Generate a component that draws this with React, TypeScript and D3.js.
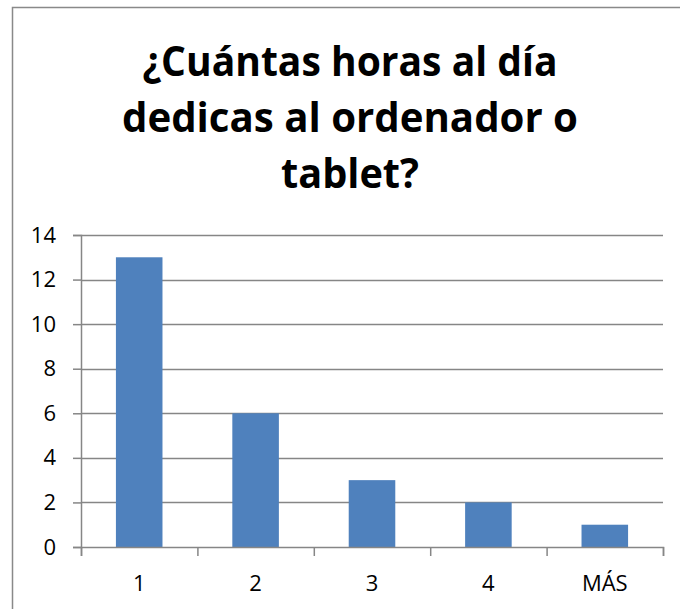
import React, { useEffect, useRef } from 'react';
import * as d3 from 'd3';

const categories = ['1', '2', '3', '4', 'MÁS'];
const values = [13, 6, 3, 2, 1];
const yTicks = [0, 2, 4, 6, 8, 10, 12, 14];
const titleLines = ['¿Cuántas horas al día', 'dedicas al ordenador o', 'tablet?'];

const App: React.FC = () => {
  const svgRef = useRef<SVGSVGElement | null>(null);

  useEffect(() => {
    if (!svgRef.current) return;

    const W = 680;
    const H = 609;
    const plot = { left: 81, right: 663, top: 235, bottom: 547 };
    const font = "'Open Sans', 'Noto Sans', sans-serif";

    const root = d3.select(svgRef.current);
    root.selectAll('*').remove();
    root.attr('width', W).attr('height', H);

    root.append('rect')
      .attr('width', W)
      .attr('height', H)
      .attr('fill', '#ffffff');

    // outer chart frame
    root.append('rect')
      .attr('x', 12.5)
      .attr('y', 7.5)
      .attr('width', 720)
      .attr('height', 640)
      .attr('fill', 'none')
      .attr('stroke', '#898989')
      .attr('stroke-width', 1.5);

    // title
    const title = root.append('text')
      .attr('text-anchor', 'middle')
      .attr('font-family', font)
      .attr('font-weight', 'bold')
      .attr('font-size', 41)
      .attr('fill', '#000');
    const titleWidths = [415, 456, 138];
    titleLines.forEach((line, i) => {
      title.append('tspan')
        .attr('x', 350)
        .attr('y', 76 + i * 56)
        .attr('textLength', titleWidths[i])
        .attr('lengthAdjust', 'spacingAndGlyphs')
        .text(line);
    });

    const x = d3.scaleBand<string>()
      .domain(categories)
      .range([plot.left, plot.right])
      .paddingInner(0.6)
      .paddingOuter(0.3);

    const xEdge = d3.scalePoint<number>()
      .domain(d3.range(categories.length + 1))
      .range([plot.left, plot.right]);

    const y = d3.scaleLinear()
      .domain([0, 14])
      .range([plot.bottom, plot.top]);

    const g = root.append('g');

    // gridlines
    g.append('g')
      .selectAll('line')
      .data(yTicks.filter(t => t > 0))
      .enter()
      .append('line')
      .attr('x1', plot.left)
      .attr('x2', plot.right)
      .attr('y1', d => Math.round(y(d)) + 0.5)
      .attr('y2', d => Math.round(y(d)) + 0.5)
      .attr('stroke', '#868686')
      .attr('stroke-width', 1.5);

    // bars
    g.append('g')
      .selectAll('rect')
      .data(values)
      .enter()
      .append('rect')
      .attr('x', (d, i) => x(categories[i]) as number)
      .attr('width', x.bandwidth())
      .attr('y', d => y(d))
      .attr('height', d => y(0) - y(d))
      .attr('fill', '#4F81BD');

    // y axis
    const yAxis = g.append('g')
      .attr('transform', `translate(${plot.left},0)`)
      .call(d3.axisLeft(y).tickValues(yTicks).tickSize(8).tickPadding(17).tickFormat(d3.format('d')));
    yAxis.select('.domain').attr('stroke', '#868686').attr('stroke-width', 1.5);
    yAxis.selectAll('.tick line').attr('stroke', '#868686').attr('stroke-width', 1.5);
    yAxis.selectAll('.tick text')
      .attr('font-family', font)
      .attr('font-size', 22)
      .attr('fill', '#000');

    // x axis line and category separators
    const xAxis = g.append('g')
      .attr('transform', `translate(0,${plot.bottom})`)
      .call(d3.axisBottom(xEdge).tickSize(9).tickFormat(() => ''));
    xAxis.select('.domain').attr('stroke', '#868686').attr('stroke-width', 1.5);
    xAxis.selectAll('.tick line').attr('stroke', '#868686').attr('stroke-width', 1.5);

    // category labels
    g.append('g')
      .selectAll('text')
      .data(categories)
      .enter()
      .append('text')
      .attr('x', d => (x(d) as number) + x.bandwidth() / 2)
      .attr('y', 591)
      .attr('text-anchor', 'middle')
      .attr('font-family', font)
      .attr('font-size', 22)
      .attr('fill', '#000')
      .text(d => d);
  }, []);

  return (
    <div style={{ position: 'absolute', left: 0, top: 0 }}>
      <svg ref={svgRef} style={{ display: 'block' }}></svg>
    </div>
  );
};

export default App;
